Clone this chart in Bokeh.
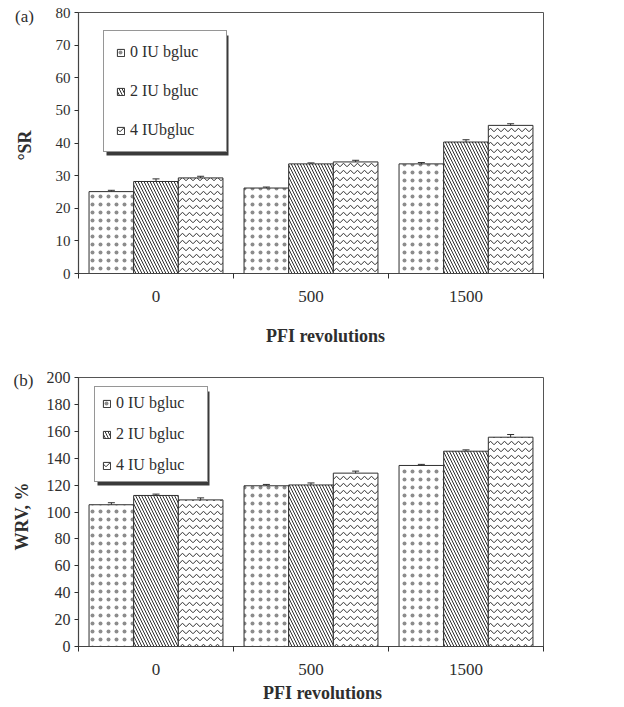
import numpy as np
from bokeh.plotting import figure
from bokeh.models import (ColumnDataSource, Range1d, FixedTicker, SingleIntervalTicker,
                          Legend, LegendItem, Label, BoxAnnotation, Whisker, TeeHead)
from bokeh.layouts import column
from bokeh.embed import file_html
from bokeh.resources import INLINE

# ---------------- data ----------------
categories = ["0", "500", "1500"]          # PFI revolutions

labels_a = ["0 IU bgluc", "2 IU bgluc", "4 IUbgluc"]
sr_0iu = [25.1, 26.2, 33.6]
sr_2iu = [28.2, 33.6, 40.3]
sr_4iu = [29.3, 34.2, 45.4]
sr_err_0iu = [0.4, 0.3, 0.4]
sr_err_2iu = [0.8, 0.3, 0.7]
sr_err_4iu = [0.5, 0.5, 0.5]

labels_b = ["0 IU bgluc", "2 IU bgluc", "4 IU bgluc"]
wrv_0iu = [105.4, 119.5, 134.6]
wrv_2iu = [112.3, 120.1, 145.2]
wrv_4iu = [109.0, 128.9, 155.6]
wrv_err_0iu = [1.5, 1.0, 0.8]
wrv_err_2iu = [1.0, 1.5, 1.0]
wrv_err_4iu = [1.5, 1.5, 2.0]

# ---------------- style ----------------
FONT = "Liberation Serif"
INK = "#2e2e2e"
# (pattern, scale, weight, alpha)
PATTERNS = [("dot", 8, 0.3, 0.55), ("left_diagonal_line", 6, 1.0, 1.0),
            ("horizontal_wave", 7, 1.0, 1.0)]
BAR_W = 0.288
OFFSETS = [-BAR_W, 0.0, BAR_W]


def add_text(p, side, text, x, y, size, bold=False, angle=0.0):
    p.add_layout(Label(x=x, y=y, x_units="canvas", y_units="canvas", text=text,
                       angle=angle, text_font=FONT, text_font_size=size,
                       text_font_style="bold" if bold else "normal", text_color=INK,
                       text_align="center", text_baseline="middle"), side)


def make_panel(series, errors, labels, ymax, yint, width, height, borders,
               leg, ytick_size, texts):
    left, right, top, bottom = borders
    n = len(categories)
    p = figure(width=width, height=height, x_range=Range1d(0, n), y_range=Range1d(0, ymax),
               output_backend="svg", toolbar_location=None,
               min_border_left=left, min_border_right=right,
               min_border_top=top, min_border_bottom=bottom)
    p.xgrid.visible = False
    p.ygrid.visible = False
    p.outline_line_color = "#555555"
    p.outline_line_width = 1

    centers = np.arange(n) + 0.5
    renderers = []
    for vals, errs, (pat, scale, weight, alpha), off in zip(series, errors, PATTERNS, OFFSETS):
        vals = np.asarray(vals, dtype=float)
        errs = np.asarray(errs, dtype=float)
        src = ColumnDataSource(dict(x=centers + off, top=vals,
                                    upper=vals + errs, lower=vals - errs))
        r = p.vbar(x="x", top="top", bottom=0, width=BAR_W, source=src,
                   fill_color="white", line_color=INK, line_width=1,
                   hatch_pattern=pat, hatch_scale=scale, hatch_weight=weight,
                   hatch_color=INK, hatch_alpha=alpha)
        renderers.append(r)
        w = Whisker(base="x", upper="upper", lower="lower", source=src,
                    line_color=INK, line_width=1,
                    upper_head=TeeHead(size=7, line_color=INK, line_width=1),
                    lower_head=TeeHead(size=7, line_color=INK, line_width=1))
        p.add_layout(w)

    # x axis: labels at group centres, small ticks between groups
    xa = p.xaxis[0]
    xa.ticker = FixedTicker(ticks=list(centers), minor_ticks=list(range(n + 1)))
    xa.major_label_overrides = {float(c): cat for c, cat in zip(centers, categories)}
    xa.major_tick_line_color = None
    xa.major_tick_out = 0
    xa.major_tick_in = 0
    xa.minor_tick_out = 5
    xa.minor_tick_in = 0
    xa.minor_tick_line_color = INK
    xa.major_label_standoff = 12
    xa.major_label_text_font = FONT
    xa.major_label_text_font_size = "17px"
    xa.major_label_text_color = INK
    xa.axis_line_color = "#444444"
    xa.axis_line_width = 1.2

    ya = p.yaxis[0]
    ya.ticker = SingleIntervalTicker(interval=yint, num_minor_ticks=0)
    ya.major_tick_out = 4
    ya.major_tick_in = 0
    ya.major_tick_line_color = INK
    ya.minor_tick_line_color = None
    ya.major_label_standoff = 4
    ya.major_label_text_font = FONT
    ya.major_label_text_font_size = ytick_size
    ya.major_label_text_color = INK
    ya.axis_line_color = "#444444"
    ya.axis_line_width = 1.2

    # legend with drop shadow
    lx, ly, pad, spacing, lab_w = leg
    glyph = 9
    standoff = 5
    lab_h = 18
    lw = 2 * pad + glyph + standoff + lab_w
    lh = 2 * pad + 3 * lab_h + 2 * spacing
    shadow = BoxAnnotation(left=lx + 3, right=lx + lw + 3, bottom=ly - 3, top=ly + lh - 3,
                           left_units="screen", right_units="screen",
                           top_units="screen", bottom_units="screen",
                           fill_color="#3a3a3a", fill_alpha=1.0, line_color=None)
    p.add_layout(shadow)
    legend = Legend(items=[LegendItem(label=lab, renderers=[r]) for lab, r in zip(labels, renderers)],
                    location=(lx, ly), margin=0, padding=pad, spacing=spacing,
                    glyph_width=glyph, glyph_height=glyph, label_standoff=standoff,
                    label_height=lab_h, label_width=lab_w,
                    label_text_font=FONT, label_text_font_size="16px", label_text_color=INK,
                    border_line_color=INK, border_line_width=1.5,
                    background_fill_color="white", background_fill_alpha=1.0)
    p.add_layout(legend)

    tag, tag_xy, ylab, ylab_xy, xlab_xy = texts
    add_text(p, "left", ylab, ylab_xy[0], ylab_xy[1], "18px", bold=True, angle=np.pi / 2)
    add_text(p, "left", tag, tag_xy[0], tag_xy[1], "17px")
    add_text(p, "below", "PFI revolutions", xlab_xy[0], xlab_xy[1], "18px", bold=True)
    return p


pa = make_panel([sr_0iu, sr_2iu, sr_4iu], [sr_err_0iu, sr_err_2iu, sr_err_4iu], labels_a,
                80, 10, 624, 355, (78, 9, 12, 82),
                (25, 121, 12, 21, 84), "15px",
                ("(a)", (24, 16), "°SR", (24, 145), (325, 335)))
pb = make_panel([wrv_0iu, wrv_2iu, wrv_4iu], [wrv_err_0iu, wrv_err_2iu, wrv_err_4iu], labels_b,
                200, 20, 624, 352, (77, 81, 22, 61),
                (16, 164, 7, 13, 84), "16px",
                ("(b)", (23, 25), "WRV, %", (21, 161), (322, 337)))

layout = column(pa, pb)
open("out.html", "w").write(file_html(layout, INLINE))
